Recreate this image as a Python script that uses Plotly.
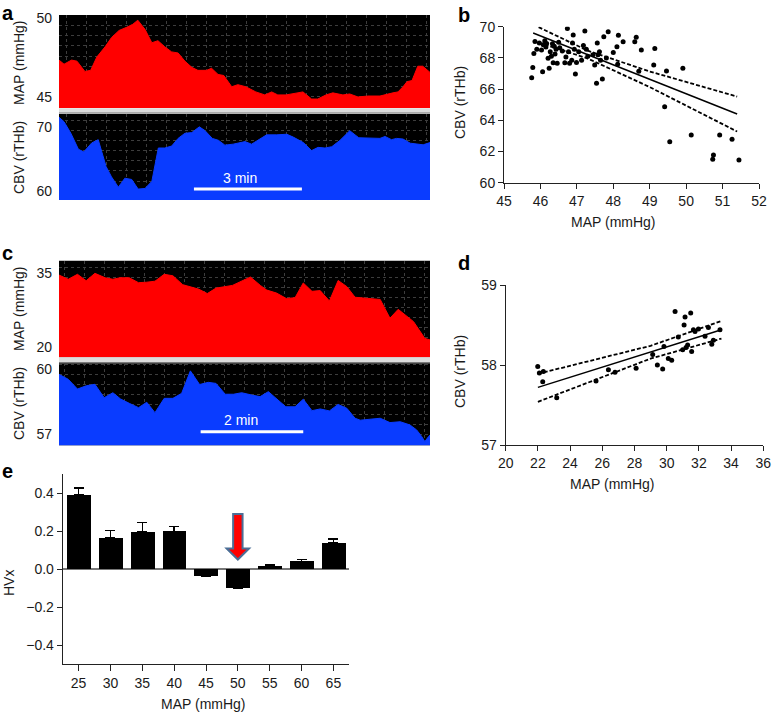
import plotly.graph_objects as go

W, H = 774, 713
FONT = "Liberation Sans, Arial, sans-serif"
RED = "#ff0000"
BLUE = "#0a3cff"
GRID = "#3d3d3d"

# ---- panel a: MAP / CBV recordings (time in min) ----
A_MAP_T = [0.00, 0.14, 0.35, 0.50, 0.72, 0.88, 1.05, 1.28, 1.46, 1.67, 1.88, 2.05, 2.19,
           2.39, 2.58, 2.75, 2.94, 3.13, 3.31, 3.50, 3.69, 3.86, 4.10, 4.24, 4.42, 4.58,
           4.80, 4.97, 5.19, 5.47, 5.72, 5.91, 6.08, 6.31, 6.78, 7.02, 7.19, 7.42, 7.61,
           7.89, 8.08, 8.31, 8.58, 8.92, 9.28, 9.42, 9.56, 9.67, 9.81, 9.89, 9.97, 10.11,
           10.22, 10.31]
A_MAP = [47.34, 47.08, 47.34, 47.27, 46.62, 46.69, 47.53, 48.18, 48.77, 49.22, 49.42, 49.61,
         49.87, 49.29, 48.44, 48.57, 48.18, 47.86, 47.79, 47.27, 46.88, 46.69, 46.69, 46.82,
         46.43, 46.36, 45.65, 45.78, 45.65, 45.32, 45.13, 45.32, 45.13, 45.13, 45.32, 44.87,
         44.87, 45.13, 45.26, 45.13, 45.19, 45.00, 45.06, 45.06, 45.26, 45.32, 45.65, 45.97,
         46.04, 46.56, 46.95, 46.95, 46.75, 46.56]
A_CBV_T = [0.00, 0.14, 0.33, 0.54, 0.69, 0.91, 1.09, 1.31, 1.46, 1.65, 1.83, 2.02, 2.20,
           2.39, 2.58, 2.76, 2.94, 3.13, 3.31, 3.50, 3.69, 3.90, 4.06, 4.26, 4.43, 4.61,
           4.84, 4.98, 5.17, 5.35, 5.54, 5.77, 6.05, 6.33, 6.51, 6.79, 7.02, 7.20, 7.39,
           7.58, 7.81, 8.08, 8.33, 8.92, 9.06, 9.24, 9.38, 9.56, 9.76, 9.94, 10.12, 10.31]
A_CBV = [71.5, 70.8, 69.0, 66.5, 66.1, 67.5, 68.0, 63.8, 62.2, 60.6, 62.0, 61.8, 60.3,
         60.4, 61.5, 66.7, 66.7, 67.0, 68.2, 69.0, 69.1, 70.0, 69.4, 68.2, 67.9, 67.15,
         67.3, 67.45, 67.7, 67.3, 68.0, 68.75, 68.75, 68.85, 68.4, 67.55, 66.3, 66.8, 66.7,
         66.9, 67.9, 69.4, 68.3, 68.2, 68.5, 68.0, 68.2, 68.1, 67.45, 67.35, 67.2, 67.55]

# ---- panel b: CBV vs MAP scatter ----
B_MAP = [45.76, 45.79, 45.82, 45.85, 45.90, 45.97, 46.03, 46.06, 46.08, 46.12, 46.15, 46.17,
         46.21, 46.24, 46.27, 46.30, 46.33, 46.35, 46.38, 46.40, 46.43, 46.46, 46.50, 46.53,
         46.60, 46.67, 46.70, 46.74, 46.77, 46.80, 46.86, 46.88, 46.90, 46.93, 46.96, 46.99,
         47.05, 47.13, 47.18, 47.22, 47.26, 47.30, 47.44, 47.49, 47.54, 47.56, 47.58, 47.62,
         47.65, 47.70, 47.74, 47.81, 47.86, 48.00, 48.10, 48.12, 48.14, 48.27, 48.59, 48.63,
         48.70, 48.77, 49.11, 49.14, 49.41, 49.46, 49.55, 49.91, 50.14, 50.73, 50.75, 50.92,
         51.26, 51.45]
B_CBV = [66.73, 67.39, 68.29, 69.05, 68.55, 68.95, 68.50, 67.12, 68.85, 69.10, 68.70, 68.92,
         67.97, 67.33, 68.40, 68.10, 68.90, 67.69, 68.75, 68.25, 68.55, 67.65, 69.00, 68.65,
         68.45, 67.69, 68.05, 69.89, 68.40, 67.65, 67.85, 68.95, 69.47, 68.55, 66.97, 67.70,
         68.40, 67.85, 68.80, 69.72, 68.55, 68.10, 68.20, 67.55, 66.37, 68.95, 68.20, 68.40,
         67.85, 66.65, 69.36, 68.00, 69.68, 68.35, 68.72, 67.60, 69.45, 69.04, 69.04, 69.32,
         67.15, 68.50, 67.54, 68.61, 64.87, 67.16, 62.63, 67.33, 63.06, 61.50, 61.77, 63.06,
         62.78, 61.45]
B_FIT_X = [45.8, 47.3, 49.0, 51.4]
B_FIT = [69.6, 68.21, 66.63, 64.4]
B_UP_X = [45.95, 47.3, 49.0, 51.4]
B_UP = [69.97, 68.46, 67.13, 65.52]
B_LO = [69.1, 67.96, 66.13, 63.28]

# ---- panel c: MAP / CBV recordings (time in min) ----
C_MAP_T = [0.00, 0.18, 0.36, 0.53, 0.70, 0.90, 1.05, 1.19, 1.37, 1.55, 1.71, 1.87, 2.05,
           2.22, 2.41, 2.59, 2.72, 2.89, 3.06, 3.38, 3.56, 3.73, 3.93, 4.05, 4.24, 4.43,
           4.60, 4.76, 4.93, 5.09, 5.27, 5.44, 5.61, 5.77, 5.87, 6.26, 6.45, 6.61, 6.91,
           7.04, 7.13, 7.23]
C_MAP = [34.65, 33.8, 34.8, 33.5, 35.0, 34.1, 33.8, 34.1, 34.1, 33.1, 33.2, 33.4, 34.8,
         34.5, 32.7, 32.2, 31.8, 30.9, 32.0, 32.55, 33.5, 34.25, 32.5, 31.6, 31.0, 29.9,
         30.05, 33.05, 31.35, 31.5, 29.4, 33.55, 32.3, 30.15, 30.05, 29.7, 25.9, 27.7, 25.2,
         23.15, 21.8, 21.5]
C_CBV_T = [0.00, 0.18, 0.36, 0.53, 0.70, 0.88, 1.05, 1.20, 1.37, 1.55, 1.71, 1.87, 2.05,
           2.22, 2.39, 2.56, 2.74, 2.91, 3.06, 3.24, 3.40, 3.56, 3.76, 3.92, 4.08, 4.24,
           4.42, 4.60, 4.76, 4.93, 5.09, 5.27, 5.44, 5.61, 5.77, 5.87, 6.26, 6.45, 6.65,
           6.84, 6.97, 7.07, 7.13, 7.20, 7.23]
C_CBV = [59.77, 59.54, 59.09, 59.24, 59.31, 58.69, 58.92, 58.63, 58.43, 58.23, 58.48, 58.0,
         58.66, 58.66, 58.89, 59.93, 59.3, 59.4, 59.35, 58.85, 58.85, 58.92, 58.81, 58.74,
         58.97, 58.63, 58.27, 58.27, 58.62, 58.09, 58.17, 58.08, 58.38, 58.2, 57.74, 57.65,
         57.74, 57.54, 57.58, 57.43, 57.2, 56.89, 56.66, 56.89, 56.97]

# ---- panel d: CBV vs MAP scatter ----
D_MAP = [21.99, 22.09, 22.30, 22.34, 23.17, 25.61, 26.38, 26.79, 28.10, 29.13, 29.42, 29.75,
         29.83, 30.10, 30.31, 30.52, 30.72, 30.99, 31.08, 31.14, 31.20, 31.30, 31.49, 31.55,
         31.66, 31.76, 31.97, 32.38, 32.59, 32.80, 32.90, 33.31]
D_CBV = [57.98, 57.90, 57.79, 57.92, 57.59, 57.80, 57.94, 57.91, 57.96, 58.13, 58.00, 57.95,
         58.23, 58.08, 58.06, 58.67, 58.35, 58.19, 58.50, 58.60, 58.22, 58.25, 58.65, 58.17,
         58.44, 58.42, 58.45, 58.36, 58.47, 58.26, 58.31, 58.44]
D_FIT_X = [22.0, 29.0, 33.4]
D_FIT = [57.72, 58.16, 58.44]
D_UP = [57.89, 58.24, 58.55]
D_LO = [57.54, 58.08, 58.33]

# ---- panel e: HVx by MAP bin ----
E_MAP = [25, 30, 35, 40, 45, 50, 55, 60, 65]
E_HVX = [0.39, 0.163, 0.195, 0.198, -0.037, -0.10, 0.016, 0.04, 0.139]
E_ERR = [0.036, 0.04, 0.05, 0.026, 0.005, 0.005, 0.004, 0.01, 0.02]
E_OPTIMAL = 50


def xd(left, right):
    return [left / W, right / W]


def yd(top, bottom):
    return [1 - bottom / H, 1 - top / H]


def trace_xaxis(dom, rng, dt, t0, anchor):
    return dict(domain=xd(*dom), range=rng, anchor=anchor, showticklabels=False, ticks='',
                showline=False, zeroline=False, showgrid=False, dtick=100, automargin=False,
                minor=dict(dtick=dt, tick0=t0, showgrid=True, gridcolor=GRID,
                           griddash='dot', gridwidth=1, ticks=''))


def trace_yaxis(dom, rng, ticks, dt, anchor):
    return dict(domain=yd(*dom), range=rng, anchor=anchor, tickvals=ticks, ticks='',
                ticklabelstandoff=6, showline=False, zeroline=False, showgrid=False,
                automargin=False,
                minor=dict(dtick=dt, tick0=ticks[0], showgrid=True, gridcolor=GRID,
                           griddash='dot', gridwidth=1, ticks=''))


def plain_axis(dom, rng, **kw):
    d = dict(domain=dom, range=rng, showline=True, linecolor='#222', linewidth=1,
             ticks='outside', ticklen=5, tickcolor='#222', showgrid=False, zeroline=False,
             automargin=False)
    d.update(kw)
    return d


fig = go.Figure()

# recordings
fig.add_trace(go.Scatter(x=A_MAP_T, y=A_MAP, mode='lines', fill='tozeroy', fillcolor=RED,
                         line=dict(color=RED, width=1), xaxis='x', yaxis='y'))
fig.add_trace(go.Scatter(x=A_CBV_T, y=A_CBV, mode='lines', fill='tozeroy', fillcolor=BLUE,
                         line=dict(color=BLUE, width=1), xaxis='x2', yaxis='y2'))
fig.add_trace(go.Scatter(x=C_MAP_T, y=C_MAP, mode='lines', fill='tozeroy', fillcolor=RED,
                         line=dict(color=RED, width=1), xaxis='x4', yaxis='y4'))
fig.add_trace(go.Scatter(x=C_CBV_T, y=C_CBV, mode='lines', fill='tozeroy', fillcolor=BLUE,
                         line=dict(color=BLUE, width=1), xaxis='x5', yaxis='y5'))

# scatter panels with regression + confidence bands
for xs, ys, fx, fy, ux, uy, lx, ly, ax in [
        (B_MAP, B_CBV, B_FIT_X, B_FIT, B_UP_X, B_UP, B_FIT_X, B_LO, '3'),
        (D_MAP, D_CBV, D_FIT_X, D_FIT, D_FIT_X, D_UP, D_FIT_X, D_LO, '6')]:
    fig.add_trace(go.Scatter(x=xs, y=ys, mode='markers', marker=dict(color='black', size=5),
                             xaxis='x' + ax, yaxis='y' + ax))
    fig.add_trace(go.Scatter(x=fx, y=fy, mode='lines', line=dict(color='black', width=1.5),
                             xaxis='x' + ax, yaxis='y' + ax))
    for bx, by in [(ux, uy), (lx, ly)]:
        fig.add_trace(go.Scatter(x=bx, y=by, mode='lines',
                                 line=dict(color='black', width=1.8, dash='4px,2px'),
                                 xaxis='x' + ax, yaxis='y' + ax))

# bar panel
fig.add_trace(go.Bar(x=E_MAP, y=E_HVX, width=3.75, marker=dict(color='black', line_width=0),
                     error_y=dict(type='data', symmetric=False, array=E_ERR,
                                  arrayminus=[0] * len(E_ERR), color='black',
                                  thickness=1.5, width=5),
                     xaxis='x7', yaxis='y7'))

A_X, C_X = (59, 430), (59, 430)
fig.update_layout(
    width=W, height=H, margin=dict(l=0, r=0, t=0, b=0, autoexpand=False),
    paper_bgcolor='white', plot_bgcolor='white', showlegend=False,
    font=dict(family=FONT, size=14, color='#1a1a1a'),
    xaxis=trace_xaxis(A_X, [0, 10.31], 0.556, 0.21, 'y'),
    yaxis=trace_yaxis((15, 108), [44.3, 50.2], [45, 50], 0.649, 'x'),
    xaxis2=trace_xaxis(A_X, [0, 10.31], 0.556, 0.21, 'y2'),
    yaxis2=trace_yaxis((114, 200), [58.6, 72.0], [60, 70], 1.56, 'x2'),
    xaxis4=trace_xaxis(C_X, [0, 7.23], 0.39, 0.1, 'y4'),
    yaxis4=trace_yaxis((260.7, 357.3), [17.97, 37.56], [20, 35], 2.03, 'x4'),
    xaxis5=trace_xaxis(C_X, [0, 7.23], 0.39, 0.1, 'y5'),
    yaxis5=trace_yaxis((363.3, 445.3), [56.49, 60.28], [57, 60], 0.46, 'x5'),
    xaxis3=plain_axis(xd(504, 759), [45, 52], anchor='y3', dtick=1),
    yaxis3=plain_axis(yd(26.7, 182.7), [60, 70], anchor='x3', dtick=2),
    xaxis6=plain_axis(xd(505.7, 763.3), [20, 36], anchor='y6', dtick=2),
    yaxis6=plain_axis(yd(285, 445), [57, 59], anchor='x6', dtick=1),
    xaxis7=plain_axis(xd(62.7, 349.3), [22.5, 67.5], anchor='y7', tickvals=E_MAP, ticklen=6),
    yaxis7=plain_axis(yd(474, 664), [-0.5, 0.5], anchor='x7',
                      tickvals=[-0.4, -0.2, 0, 0.2, 0.4], tickformat='.1f',
                      zeroline=True, zerolinecolor='#777', zerolinewidth=1.5),
    bargap=0,
)

shapes = []
# black backgrounds for the recordings
for ax in ['', '2', '4', '5']:
    shapes.append(dict(type='rect', xref='x%s domain' % ax, yref='y%s domain' % ax,
                       x0=0, x1=1, y0=0, y1=1, fillcolor='black', line_width=0, layer='below'))
# grey separators between MAP and CBV strips
for top, bot in [(108.3, 113.5), (357.3, 363.0)]:
    shapes.append(dict(type='rect', xref='paper', yref='paper', x0=59 / W, x1=430 / W,
                       y0=1 - bot / H, y1=1 - top / H, fillcolor='#dcdcdc', line_width=0))
    shapes.append(dict(type='line', xref='paper', yref='paper', x0=59 / W, x1=430 / W,
                       y0=1 - (bot - 0.5) / H, y1=1 - (bot - 0.5) / H,
                       line=dict(color='#7a7a7a', width=1)))
# scale bars
shapes.append(dict(type='line', xref='x2', yref='y2', x0=3.75, x1=6.75, y0=60.3, y1=60.3,
                   line=dict(color='white', width=3)))
shapes.append(dict(type='line', xref='x5', yref='y5', x0=2.76, x1=4.76, y0=57.12, y1=57.12,
                   line=dict(color='white', width=3)))
# arrow marking the optimal MAP bin
sw, hw, top, base, tip = 0.74, 1.76, 0.29, 0.108, 0.05
c = E_OPTIMAL
path = (f"M {c - sw},{top} L {c + sw},{top} L {c + sw},{base} L {c + hw},{base} "
        f"L {c},{tip} L {c - hw},{base} L {c - sw},{base} Z")
shapes.append(dict(type='path', xref='x7', yref='y7', path=path, fillcolor=RED,
                   line=dict(color='#4b6e96', width=2)))
fig.update_layout(shapes=shapes)

ann = []
for txt, x, y in [('a', 0, 0), ('b', 456, 2), ('c', 0, 240), ('d', 456, 250), ('e', 0, 458)]:
    ann.append(dict(text='<b>%s</b>' % txt, x=x / W, y=1 - y / H, xref='paper', yref='paper',
                    xanchor='left', yanchor='top', showarrow=False,
                    font=dict(size=20, color='black')))
for txt, x, y in [('MAP (mmHg)', 19, 63), ('CBV (rTHb)', 19, 158),
                  ('MAP (mmHg)', 19, 309), ('CBV (rTHb)', 19, 404),
                  ('CBV (rTHb)', 460, 103), ('CBV (rTHb)', 460, 372), ('HVx', 9, 583)]:
    ann.append(dict(text=txt, x=x / W, y=1 - y / H, xref='paper', yref='paper',
                    xanchor='center', yanchor='middle', textangle=-90, showarrow=False))
for txt, x, y in [('MAP (mmHg)', 613, 222), ('MAP (mmHg)', 612, 484), ('MAP (mmHg)', 203, 704)]:
    ann.append(dict(text=txt, x=x / W, y=1 - y / H, xref='paper', yref='paper',
                    xanchor='center', yanchor='middle', showarrow=False))
ann.append(dict(text='3 min', x=5.03, y=62.0, xref='x2', yref='y2', showarrow=False,
                font=dict(color='white', size=14)))
ann.append(dict(text='2 min', x=3.54, y=57.66, xref='x5', yref='y5', showarrow=False,
                font=dict(color='white', size=14)))
fig.update_layout(annotations=ann)

# drop the browser's default body margin so the figure sits at the page origin
fig.write_html("out.html", config={'displayModeBar': False},
               post_script="document.body.style.margin='0';")
